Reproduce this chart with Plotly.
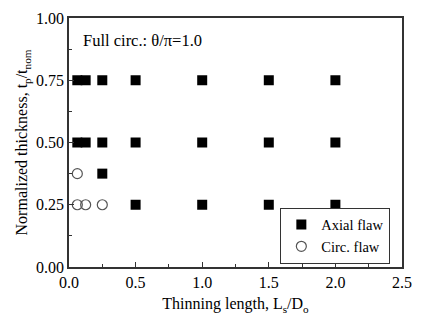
import plotly.graph_objects as go

axial_x = [0.0625, 0.125, 0.25, 0.5, 1.0, 1.5, 2.0,
           0.0625, 0.125, 0.25, 0.5, 1.0, 1.5, 2.0,
           0.25,
           0.5, 1.0, 1.5, 2.0]
axial_y = [0.75]*7 + [0.5]*7 + [0.375] + [0.25]*4

circ_x = [0.0625, 0.0625, 0.125, 0.25]
circ_y = [0.375, 0.25, 0.25, 0.25]

x_ticks = [0.0, 0.5, 1.0, 1.5, 2.0, 2.5]
y_ticks = [0.0, 0.25, 0.5, 0.75, 1.0]

FONT = "Liberation Serif"

fig = go.Figure()
fig.add_trace(go.Scatter(x=axial_x, y=axial_y, mode="markers", name="Axial flaw",
                         marker=dict(symbol="square", size=10, color="black",
                                     line=dict(width=0))))
fig.add_trace(go.Scatter(x=circ_x, y=circ_y, mode="markers", name="Circ. flaw",
                         marker=dict(symbol="circle-open", size=10, color="#555555",
                                     line=dict(width=1.2))))

axis_common = dict(showgrid=False, zeroline=False, showline=True, linecolor="#333333",
                   linewidth=1.5, mirror=True, ticks="inside", ticklen=5,
                   tickcolor="#333333", tickwidth=1.2,
                   tickfont=dict(size=16))

fig.update_xaxes(range=[0, 2.5], tickvals=x_ticks,
                 ticktext=[f"{v:.1f}" for v in x_ticks],
                 minor=dict(ticks="inside", ticklen=3, dtick=0.25, tickcolor="#333333"),
                 title=dict(text="Thinning length, L<sub>s</sub>/D<sub>o</sub>",
                            font=dict(size=16), standoff=8),
                 **axis_common)
fig.update_yaxes(range=[0, 1.0], tickvals=y_ticks,
                 ticktext=[f"{v:.2f}" for v in y_ticks],
                 minor=dict(ticks="inside", ticklen=3, dtick=0.125, tickcolor="#333333"),
                 title=dict(text="Normalized thickness, t<sub>p</sub>/t<sub>nom</sub>",
                            font=dict(size=16), standoff=4),
                 **axis_common)

fig.add_annotation(x=0.035, y=0.955, xref="paper", yref="paper", xanchor="left", yanchor="top",
                   text="Full circ.: θ/π=1.0", showarrow=False,
                   font=dict(size=16.5))

fig.update_layout(width=422, height=326, margin=dict(l=69, r=10, t=15, b=59),
                  font=dict(family=FONT, size=16, color="black"),
                  plot_bgcolor="white", paper_bgcolor="white",
                  legend=dict(x=0.965, y=0.014, xanchor="right", yanchor="bottom",
                              bordercolor="#333333", borderwidth=1, bgcolor="white",
                              font=dict(size=14.5),
                              itemwidth=30, tracegroupgap=0))

fig.write_html("out.html")
